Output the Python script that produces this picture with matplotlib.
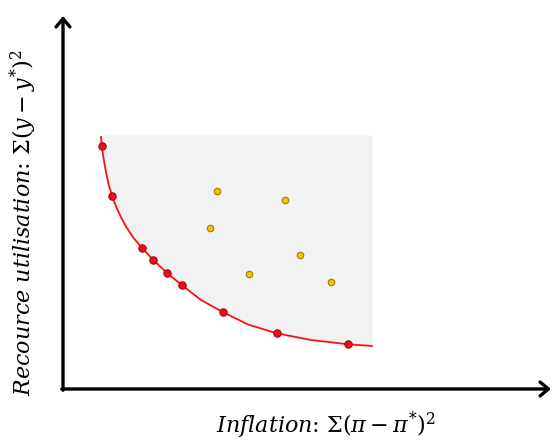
import numpy as np
import matplotlib.pyplot as plt

plt.rcParams['mathtext.fontset'] = 'dejavuserif'

# efficient frontier (red)
frontier_x = [38.7, 49, 79.3, 90.3, 103.7, 118.7, 160.3, 213.7, 285.3]
frontier_y = [243.3, 193, 140.7, 129, 116.3, 104, 76.7, 55.7, 44.7]

# smooth frontier line traced through the picture
curve_x = [38, 38.7, 40.5, 43, 46, 49, 53, 58, 63, 70, 79.3, 90.3, 103.7,
           118.7, 138, 160.3, 185, 213.7, 248, 285.3, 309]
curve_y = [252, 243.3, 231, 216.6, 203, 193, 182.7, 171.7, 162.4, 151.7,
           140.7, 129, 116.3, 104, 89, 76.7, 64.5, 55.7, 49, 44.7, 43]

# inefficient outcomes (yellow)
inner_x = [153.7, 222, 147, 237, 186.3, 267.7]
inner_y = [198.3, 189, 160.7, 134, 115, 107.3]

region_top = 254

fig = plt.figure(figsize=(5.54, 4.41), dpi=100)
ax = fig.add_axes([0, 0, 1, 1])
ax.set_xlim(-63, 491)
ax.set_ylim(-52, 389)
ax.axis('off')

# feasible region
ax.fill_between(curve_x, curve_y, region_top, color='#f2f2f2', lw=0, zorder=1)

# axes with arrows
arrow = dict(arrowstyle='->,head_length=0.6,head_width=0.5', lw=2.4,
             color='black', shrinkA=0, shrinkB=0)
ax.annotate('', xy=(0, 373), xytext=(0, -1.2), arrowprops=arrow, zorder=3)
ax.annotate('', xy=(488, 0), xytext=(-1.2, 0), arrowprops=arrow, zorder=3)

ax.plot(curve_x, curve_y, color='#ff1010', lw=1.3, zorder=2,
        solid_joinstyle='round')
ax.scatter(frontier_x, frontier_y, s=28, color='#e8101a', edgecolor='#b00010',
           lw=0.8, zorder=4)
ax.scatter(inner_x, inner_y, s=22, color='#f0c400', edgecolor='#a08000',
           lw=0.8, zorder=4)

ax.text(263, -36, r'$Inflation$: $\Sigma(\pi - \pi^{*})^2$', fontsize=16,
        ha='center', va='center', family='DejaVu Serif')
ax.text(-40, 166, r'$Recource\ utilisation$: $\Sigma(y - y^{*})^2$',
        fontsize=16, ha='center', va='center', rotation=90,
        family='DejaVu Serif')

fig.savefig('out.png', dpi=100)
